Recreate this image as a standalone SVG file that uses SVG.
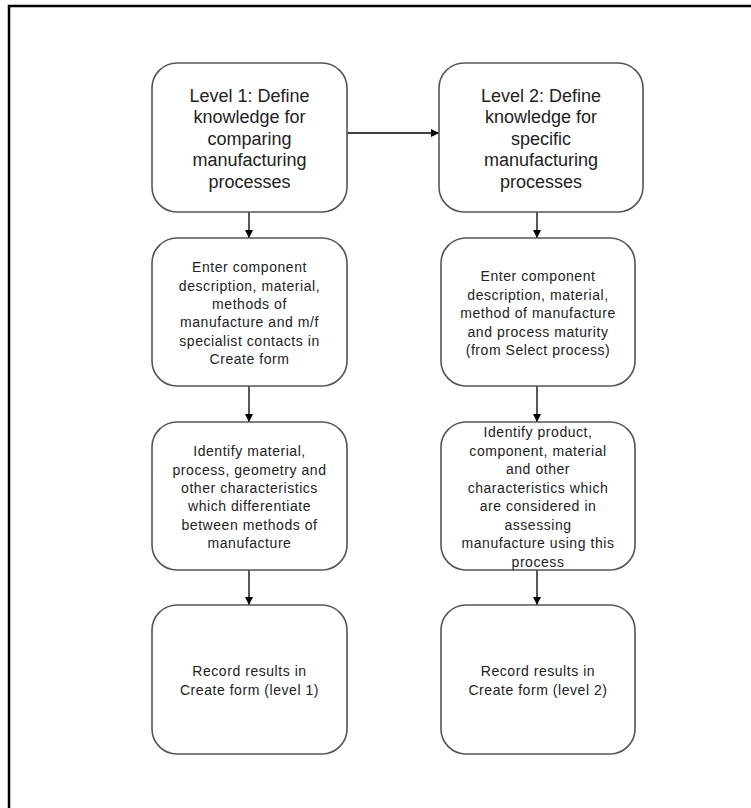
<svg xmlns="http://www.w3.org/2000/svg" width="751" height="808" viewBox="0 0 751 808">
<style>
.box{fill:#fff;stroke:#555;stroke-width:1.6}
.big{font-family:"Liberation Sans",Arial,sans-serif;font-size:18px;fill:#222;text-anchor:middle}
.sm{font-family:"Liberation Sans",Arial,sans-serif;font-size:14px;letter-spacing:0.55px;fill:#222;text-anchor:middle}
.con{stroke:#000;stroke-width:1.3;fill:none;marker-end:url(#ah)}
</style>
<defs>
<marker id="ah" viewBox="0 0 10 10" refX="10" refY="5" markerWidth="8" markerHeight="8" markerUnits="userSpaceOnUse" orient="auto">
<path d="M0,0 L10,5 L0,10 z" fill="#000"/>
</marker>
</defs>
<rect width="751" height="808" fill="#fff"/>
<path d="M9,808 V6 H751" fill="none" stroke="#000" stroke-width="2.5"/>
<g id="connectors">
<line class="con" x1="347" y1="133" x2="439" y2="133"/>
<line class="con" x1="249" y1="212" x2="249" y2="238"/>
<line class="con" x1="249" y1="386" x2="249" y2="422"/>
<line class="con" x1="249" y1="570" x2="249" y2="605"/>
<line class="con" x1="537" y1="212" x2="537" y2="238"/>
<line class="con" x1="537" y1="386" x2="537" y2="422"/>
<line class="con" x1="537" y1="570" x2="537" y2="605"/>
</g>
<g id="n1">
<rect class="box" x="152" y="63" width="195" height="149" rx="25"/>
<text class="big" x="249.5" y="101.5">Level 1: Define</text>
<text class="big" x="249.5" y="123">knowledge for</text>
<text class="big" x="249.5" y="144.5">comparing</text>
<text class="big" x="249.5" y="166">manufacturing</text>
<text class="big" x="249.5" y="187.5">processes</text>
</g>
<g id="n2">
<rect class="box" x="439" y="63" width="204" height="149" rx="25"/>
<text class="big" x="541" y="101.5">Level 2: Define</text>
<text class="big" x="541" y="123">knowledge for</text>
<text class="big" x="541" y="144.5">specific</text>
<text class="big" x="541" y="166">manufacturing</text>
<text class="big" x="541" y="187.5">processes</text>
</g>
<g id="n3">
<rect class="box" x="152" y="238" width="195" height="148" rx="25"/>
<text class="sm" x="249.5" y="272">Enter component</text>
<text class="sm" x="249.5" y="290.5">description, material,</text>
<text class="sm" x="249.5" y="309">methods of</text>
<text class="sm" x="249.5" y="327">manufacture and m/f</text>
<text class="sm" x="249.5" y="345.5">specialist contacts in</text>
<text class="sm" x="249.5" y="364">Create form</text>
</g>
<g id="n4">
<rect class="box" x="441" y="238" width="194" height="148" rx="25"/>
<text class="sm" x="538" y="281">Enter component</text>
<text class="sm" x="538" y="299.5">description, material,</text>
<text class="sm" x="538" y="318">method of manufacture</text>
<text class="sm" x="538" y="336.5">and process maturity</text>
<text class="sm" x="538" y="355">(from Select process)</text>
</g>
<g id="n5">
<rect class="box" x="152" y="422" width="195" height="148" rx="25"/>
<text class="sm" x="249.5" y="456">Identify material,</text>
<text class="sm" x="249.5" y="474.5">process, geometry and</text>
<text class="sm" x="249.5" y="493">other characteristics</text>
<text class="sm" x="249.5" y="511">which differentiate</text>
<text class="sm" x="249.5" y="529.5">between methods of</text>
<text class="sm" x="249.5" y="548">manufacture</text>
</g>
<g id="n6">
<rect class="box" x="441" y="422" width="194" height="148" rx="25"/>
<text class="sm" x="538" y="437">Identify product,</text>
<text class="sm" x="538" y="455.5">component, material</text>
<text class="sm" x="538" y="474">and other</text>
<text class="sm" x="538" y="492.5">characteristics which</text>
<text class="sm" x="538" y="511">are considered in</text>
<text class="sm" x="538" y="529.5">assessing</text>
<text class="sm" x="538" y="548">manufacture using this</text>
<text class="sm" x="538" y="566.5">process</text>
</g>
<g id="n7">
<rect class="box" x="152" y="605" width="195" height="149" rx="25"/>
<text class="sm" x="249.5" y="676">Record results in</text>
<text class="sm" x="249.5" y="694.5">Create form (level 1)</text>
</g>
<g id="n8">
<rect class="box" x="441" y="605" width="194" height="149" rx="25"/>
<text class="sm" x="538" y="676">Record results in</text>
<text class="sm" x="538" y="694.5">Create form (level 2)</text>
</g>
</svg>
